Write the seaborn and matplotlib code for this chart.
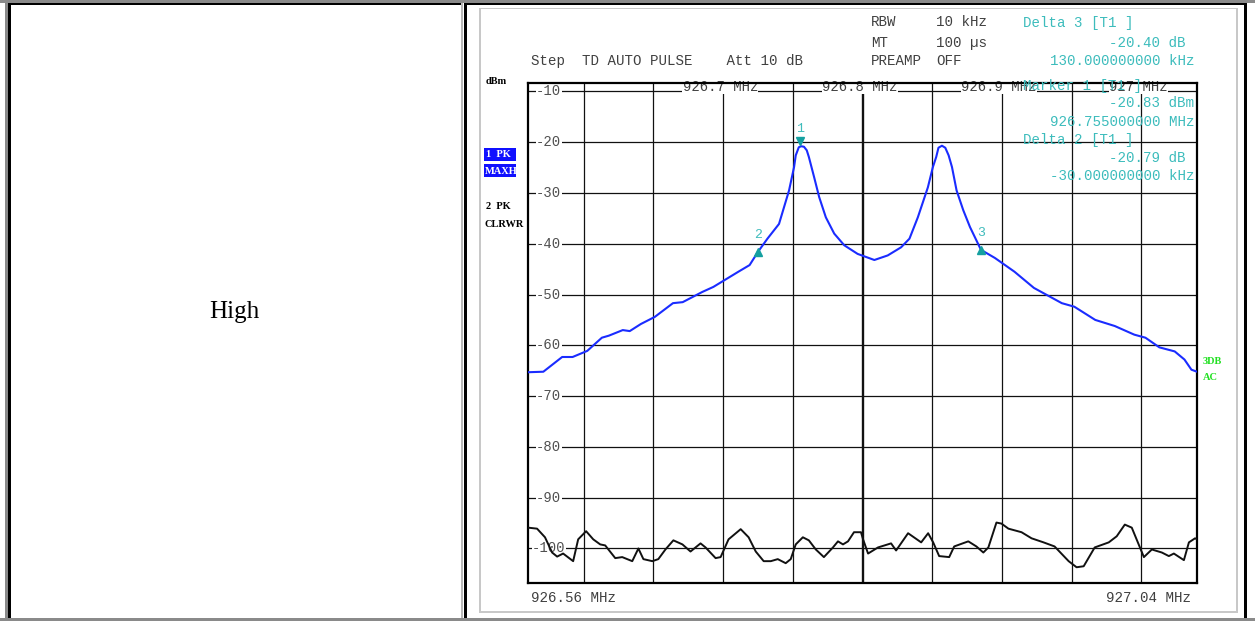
import numpy as np
import pandas as pd
import matplotlib
matplotlib.use("Agg")
import matplotlib.pyplot as plt
import matplotlib.transforms as mtransforms
from matplotlib.patches import Rectangle
import seaborn as sns

# ---------------- data ----------------
trace1_freq_mhz = [926.560, 926.571, 926.5845, 926.592, 926.6025, 926.613, 926.618, 926.628,
                   926.633, 926.641, 926.651, 926.664, 926.671, 926.685, 926.693, 926.702,
                   926.711, 926.719, 926.725, 926.7318, 926.7401, 926.7437, 926.7473, 926.7509,
                   926.7521, 926.7543, 926.7560, 926.7580, 926.7600, 926.7615, 926.7653, 926.7689,
                   926.7737, 926.7797, 926.7869, 926.7965, 926.8085, 926.8181, 926.8277, 926.8337,
                   926.8397, 926.8469, 926.8505, 926.8529, 926.8545, 926.8570, 926.8594, 926.8618,
                   926.8642, 926.8675, 926.8723, 926.8771, 926.885, 926.895, 926.909, 926.923,
                   926.943, 926.952, 926.967, 926.981, 926.995, 927.003, 927.013, 927.024,
                   927.031, 927.036, 927.040]
trace1_level_dbm = [-65.3, -65.2, -62.3, -62.3, -61.1, -58.5, -58.1, -57.0,
                    -57.2, -55.8, -54.4, -51.7, -51.5, -49.5, -48.5, -47.0,
                    -45.5, -44.2, -41.6, -39.0, -36.1, -32.8, -29.5, -24.9,
                    -22.6, -21.0, -20.8, -20.9, -21.6, -22.9, -26.9, -30.8,
                    -34.8, -38.0, -40.3, -42.0, -43.2, -42.3, -40.7, -39.0,
                    -34.8, -28.9, -24.9, -22.9, -21.1, -20.7, -21.1, -22.6,
                    -24.9, -29.5, -33.4, -36.7, -41.2, -42.8, -45.5, -48.7,
                    -51.7, -52.4, -55.0, -56.2, -57.9, -58.5, -60.4, -61.2,
                    -62.8, -64.8, -65.2]

trace2_freq_mhz = [926.5600, 926.5665, 926.5722, 926.5773, 926.5809, 926.5852, 926.5924, 926.5960,
                   926.6017, 926.6068, 926.6118, 926.6154, 926.6226, 926.6276, 926.6348, 926.6392,
                   926.6428, 926.6492, 926.6535, 926.6586, 926.6643, 926.6708, 926.6766, 926.6838,
                   926.6874, 926.6946, 926.6982, 926.7039, 926.7126, 926.7183, 926.7234, 926.7291,
                   926.7342, 926.7392, 926.7449, 926.7485, 926.7521, 926.7572, 926.7615, 926.7665,
                   926.7723, 926.7788, 926.7824, 926.7860, 926.7896, 926.7939, 926.7989, 926.8004,
                   926.8040, 926.8111, 926.8205, 926.8241, 926.8327, 926.8421, 926.8471, 926.8507,
                   926.8550, 926.8622, 926.8658, 926.8759, 926.8817, 926.8867, 926.8903, 926.8961,
                   926.8997, 926.9047, 926.9141, 926.9213, 926.9299, 926.9378, 926.9479, 926.9536,
                   926.9587, 926.9666, 926.9767, 926.9824, 926.9882, 926.9932, 927.0019, 927.0076,
                   927.0148, 927.0198, 927.0234, 927.0306, 927.0342, 927.0386, 927.0400]
trace2_level_dbm = [-95.9, -96.1, -97.8, -100.8, -101.6, -101.0, -102.5, -98.2,
                    -96.6, -98.2, -99.2, -99.4, -101.9, -101.7, -102.5, -100.0,
                    -102.1, -102.5, -102.1, -100.2, -98.4, -99.2, -100.6, -99.0,
                    -99.8, -101.9, -101.7, -98.2, -96.2, -97.8, -100.6, -102.5,
                    -102.5, -102.1, -102.9, -102.1, -99.2, -97.8, -98.4, -100.2,
                    -101.7, -99.8, -98.6, -99.2, -98.6, -96.8, -96.8, -98.2,
                    -101.0, -99.8, -99.0, -100.4, -97.0, -98.8, -97.0, -98.8,
                    -101.5, -101.7, -99.6, -98.6, -99.6, -100.8, -99.8, -94.9,
                    -95.1, -96.1, -96.8, -98.0, -98.8, -99.6, -102.5, -103.7,
                    -103.5, -99.8, -98.8, -97.6, -95.3, -95.9, -101.7, -100.2,
                    -100.8, -101.5, -101.0, -102.3, -98.8, -98.0, -98.2]

marker_names = ["1", "2", "3"]
marker_freq_mhz = [926.755, 926.725, 926.885]
marker_level_dbm = [-20.83, -41.62, -41.23]
marker_symbols = ["v", "^", "^"]

y_grid_dbm = [-10, -20, -30, -40, -50, -60, -70, -80, -90, -100]
y_tick_labels = ["-10", "-20", "-30", "-40", "-50", "-60", "-70", "-80", "-90", "-100"]
x_grid_mhz = [926.60, 926.65, 926.70, 926.75, 926.80, 926.85, 926.90, 926.95, 927.00]
top_freq_values = [926.7, 926.8, 926.9, 927.0]
top_freq_labels = ["926.7 MHz", "926.8 MHz", "926.9 MHz", "927 MHz"]
start_label = "926.56 MHz"
stop_label = "927.04 MHz"
freq_range = (926.56, 927.04)
level_range = (-106.8, -8.35)

header_left = ["RBW", "MT", "PREAMP"]
header_right = ["10 kHz", "100 µs", "OFF"]
setup_text = "Step  TD AUTO PULSE    Att 10 dB"
readout_titles = ["Delta 3 [T1 ]", "Marker 1 [T1 ]", "Delta 2 [T1 ]"]
readout_values = [["-20.40 dB ", "130.000000000 kHz"],
                  ["-20.83 dBm", "926.755000000 MHz"],
                  ["-20.79 dB ", "-30.000000000 kHz"]]
cell_text = "High"

# ---------------- style ----------------
sns.set_style("white")
plt.rcParams['font.family'] = ['Liberation Mono', 'DejaVu Sans']

W, H = 1255, 621
fig = plt.figure(figsize=(W / 100, H / 100), dpi=100)
fig.patch.set_facecolor("white")

def fx(x):
    return x / W

def fy(y):
    return 1 - y / H

# background axis in pixel coordinates for page borders
bg = fig.add_axes([0, 0, 1, 1], zorder=-5)
bg.set_xlim(0, W)
bg.set_ylim(H, 0)
bg.axis("off")

def rect(x, y, w, h, c):
    bg.add_patch(Rectangle((x, y), w, h, facecolor=c, edgecolor="none"))

GRAY = "#8a8a8a"
LIGHT = "#b8b8b8"
rect(0, 0, W, 3, GRAY)          # top band
rect(0, 618, W, 3, GRAY)        # bottom band
rect(5, 0, 3, H, GRAY)          # left band
# left cell
rect(8, 3, 454, 2, "black")
rect(8, 3, 2.5, 615, "black")
rect(461, 3, 2, 615, LIGHT)
# right cell
rect(464, 3, 783, 2, "black")
rect(464, 3, 2.5, 615, "black")
rect(1244, 3, 2.5, 615, "black")
# inner instrument panel
rect(479, 7.5, 759, 1.8, "#c8c8c8")
rect(479, 611, 759, 1.8, "#c8c8c8")
rect(479, 7.5, 1.8, 605, "#c8c8c8")
rect(1236, 7.5, 1.8, 605, "#c8c8c8")

# ---------------- main spectrum axes ----------------
ax = fig.add_axes([fx(528), fy(583), (1197 - 528) / W, (583 - 83) / H], zorder=0)
ax.set_facecolor("white")
ax.set_xlim(*freq_range)
ax.set_ylim(*level_range)

for v in y_grid_dbm:
    ax.axhline(v, color="#111111", lw=0.9, zorder=1)
for f in x_grid_mhz:
    ax.axvline(f, color="#111111", lw=1.7 if abs(f - 926.8) < 1e-6 else 0.9, zorder=1)

blend_y = mtransforms.blended_transform_factory(ax.transAxes, ax.transData)
for v, lab in zip(y_grid_dbm, y_tick_labels):
    ax.text(0.031, v, lab, transform=blend_y, ha="center", va="center",
            fontsize=10, color="#505050", zorder=2,
            bbox=dict(facecolor="white", edgecolor="none", pad=0.3))

blend_x = mtransforms.blended_transform_factory(ax.transData, ax.transAxes)
for f, lab in zip(top_freq_values, top_freq_labels):
    ax.text(f - 0.002, 0.992, lab, transform=blend_x, ha="center", va="center",
            fontsize=10, color="#404040", zorder=2,
            bbox=dict(facecolor="white", edgecolor="none", pad=0.3))

df1 = pd.DataFrame({"freq": trace1_freq_mhz, "level": trace1_level_dbm})
df2 = pd.DataFrame({"freq": trace2_freq_mhz, "level": trace2_level_dbm})
sns.lineplot(data=df2, x="freq", y="level", ax=ax, color="#111111", lw=1.4,
             estimator=None, sort=False, zorder=4, solid_joinstyle="round")
sns.lineplot(data=df1, x="freq", y="level", ax=ax, color="#1a2cff", lw=1.5,
             estimator=None, sort=False, zorder=5, solid_joinstyle="round")

TEAL = "#14a0a0"
for name, f, lv, sym in zip(marker_names, marker_freq_mhz, marker_level_dbm, marker_symbols):
    dy = 5 if sym == "v" else 0
    tr = mtransforms.offset_copy(ax.transData, fig=fig, x=0, y=dy, units="dots")
    ax.plot([f], [lv], marker=sym, color=TEAL, ms=6, ls="none", transform=tr, zorder=6)
    ax.annotate(name, (f, lv), xytext=(0, 17), textcoords="offset pixels",
                ha="center", va="center", fontsize=9.5, color="#40bcbc", zorder=6)

ax.set_xticks([])
ax.set_yticks([])
ax.set_xlabel("")
ax.set_ylabel("")
for s in ax.spines.values():
    s.set_visible(True)
    s.set_color("black")
    s.set_linewidth(1.6)

# ---------------- texts ----------------
MONO = dict(family=["Liberation Mono", "DejaVu Sans"], fontsize=10.2)
TXT = "#404040"
CYAN = "#3cbcbc"

for lab, val, y in zip(header_left, header_right, [22, 43, 61]):
    fig.text(fx(871), fy(y), lab, color=TXT, va="center", ha="left", **MONO)
    fig.text(fx(936), fy(y), val, color=TXT, va="center", ha="left", **MONO)
fig.text(fx(531), fy(61), setup_text, color=TXT, va="center", ha="left", **MONO)

rows = [(23, 43, 61), (86, 103, 122), (140, 158, 176)]
for title, vals, (y0, y1, y2) in zip(readout_titles, readout_values, rows):
    fig.text(fx(1023), fy(y0), title, color=CYAN, va="center", ha="left", zorder=10, **MONO)
    fig.text(fx(1194), fy(y1), vals[0], color=CYAN, va="center", ha="right", zorder=10, **MONO)
    fig.text(fx(1194), fy(y2), vals[1], color=CYAN, va="center", ha="right", zorder=10, **MONO)

fig.text(fx(531), fy(598), start_label, color=TXT, va="center", ha="left", **MONO)
fig.text(fx(1191), fy(598), stop_label, color=TXT, va="center", ha="right", **MONO)

SMALL = dict(family=["Liberation Serif", "DejaVu Serif"], fontsize=7.5, fontweight="bold")
fig.text(fx(486), fy(82), "dBm", color="black", va="center", ha="left", **SMALL)
bg.add_patch(Rectangle((484, 147.5), 32, 13, facecolor="#1010ff", edgecolor="none"))
bg.add_patch(Rectangle((484, 164), 32, 13, facecolor="#1010ff", edgecolor="none"))
fig.text(fx(485.5), fy(154.5), "1  PK", color="white", va="center", ha="left", **SMALL)
fig.text(fx(484.5), fy(171), "MAXH", color="white", va="center", ha="left", **SMALL)
fig.text(fx(485.5), fy(207), "2  PK", color="black", va="center", ha="left", **SMALL)
fig.text(fx(484.5), fy(224), "CLRWR", color="black", va="center", ha="left", **SMALL)
fig.text(fx(1203), fy(362), "3DB", color="#20e020", va="center", ha="left", **SMALL)
fig.text(fx(1203), fy(378), "AC", color="#20e020", va="center", ha="left", **SMALL)

fig.text(fx(234), fy(312), cell_text, color="black", va="center", ha="center",
         family=["Liberation Serif", "DejaVu Serif"], fontsize=18)

fig.savefig("out.png", dpi=100, facecolor="white")
